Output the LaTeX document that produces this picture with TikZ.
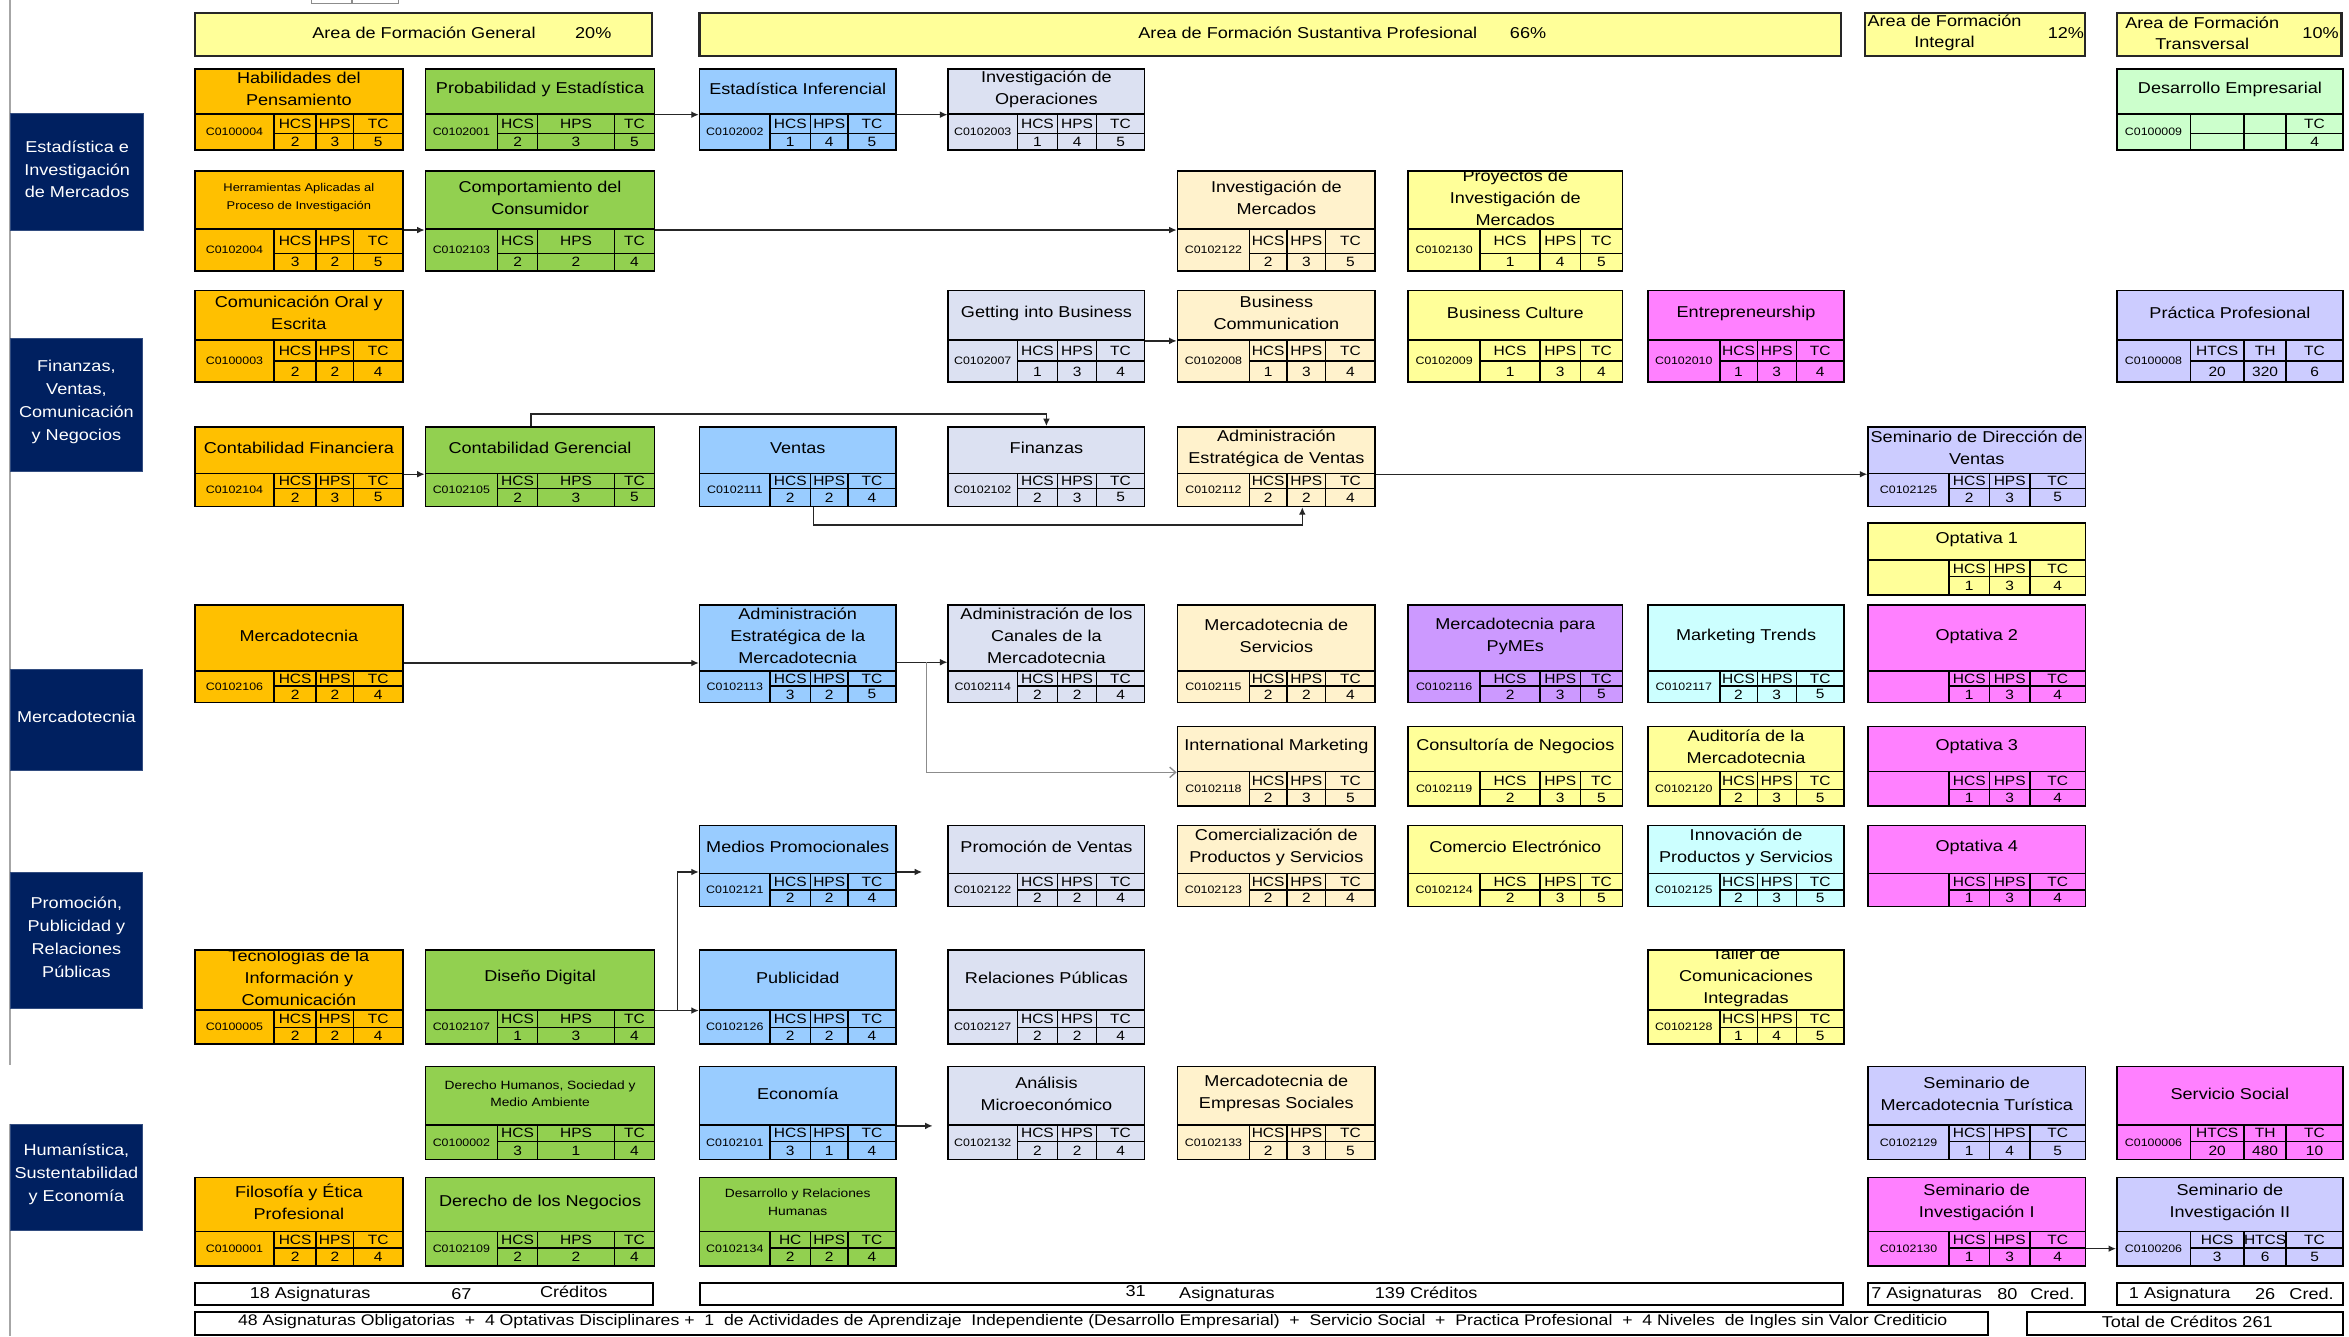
\documentclass[tikz,border=0pt]{standalone}
\usepackage{fontspec}
\usepackage{graphicx}
\setmainfont{Liberation Sans}[FakeStretch=1.15]
\usetikzlibrary{fit,calc,arrows.meta}
\definecolor{cOrange}{HTML}{FFC000}
\definecolor{cGreen}{HTML}{92D050}
\definecolor{cBlue}{HTML}{99CCFF}
\definecolor{cLav}{HTML}{DCE1F2}
\definecolor{cCream}{HTML}{FFF2CC}
\definecolor{cYellow}{HTML}{FFFF99}
\definecolor{cMagenta}{HTML}{FF80FF}
\definecolor{cPeri}{HTML}{CCCCFF}
\definecolor{cPurple}{HTML}{CC99FF}
\definecolor{cCyan}{HTML}{CCFFFF}
\definecolor{cMint}{HTML}{CCFFCC}
\definecolor{cNavy}{HTML}{002060}
\def\myParseCol#1,#2,#3,#4,#5;{\def\cxA{#1}\def\cxB{#2}\def\cxC{#3}\def\cxD{#4}\def\cxE{#5}}
\def\myParseRow#1,#2,#3,#4;{\def\cyA{#1}\def\cyB{#2}\def\cyC{#3}\def\cyD{#4}}
\def\myParseH#1/#2/#3;{\def\chA{#1}\def\chB{#2}\def\chC{#3}}
\def\myParseV#1/#2/#3;{\def\cvA{#1}\def\cvB{#2}\def\cvC{#3}}
\def\myColA{130,183,211,236,269}
\def\myColB{284,332,359,410,437}
\def\myColC{467,514,541,566,598}
\def\myColD{633,679,706,732,764}
\def\myColE{786,834,859,885,918}
\def\myColF{940,988,1028,1055,1083}
\def\myColG{1100,1148,1173,1199,1231}
\def\myColH{1247,1301,1328,1355,1392}
\def\myColI{1413,1462,1498,1526,1564}
\def\myRowA{46,76,89,100}
\def\myRowB{114,153,169,181}
\def\myRowC{194,227,241,255}
\def\myRowD{285,316,326,338}
\def\myRowE{349,374,385,397}
\def\myRowF{404,448,458,469}
\def\myRowG{485,515,527,538}
\def\myRowH{551,583,594,605}
\def\myRowI{634,674,686,697}
\def\myRowJ{712,751,762,774}
\def\myRowK{786,822,833,845}
\newcommand\ttlfont{\fontsize{10.5}{14.7}\selectfont}
\newcommand\smallttl{\fontsize{7.5}{12}\selectfont}
\newcommand\smallttlb{\fontsize{8}{11.5}\selectfont}
\newcommand\course[9]{%
  \expandafter\myParseCol#2;%
  \expandafter\myParseRow#3;%
  \myParseH#7;\myParseV#8;%
  \node[boxfit, fit={(\cxA,\cyA)(\cxE,\cyB)}, fill=#4] (#1) {};
  \begin{scope}
    \clip (\cxA,\cyA) rectangle (\cxE,\cyB);
    \node[ttl,#9] (#1-tt) at ([yshift=1.5pt]#1.center) {#5};
  \end{scope}
  \node[boxfit, fit={(\cxA,\cyB)(\cxE,\cyD)}, fill=#4] (#1-tab) {};
  \draw[cellline] (\cxB,\cyB) -- (\cxB,\cyD) (\cxC,\cyB) -- (\cxC,\cyD)
     (\cxD,\cyB) -- (\cxD,\cyD) (\cxB,\cyC) -- (\cxE,\cyC);
  \node[codef] (#1-code) at ({(\cxA+\cxB)/2},{(\cyB+\cyD)/2}) {#6};
  \node[cellf] (#1-h1) at ({(\cxB+\cxC)/2},{(\cyB+\cyC)/2}) {\chA};
  \node[cellf] (#1-h2) at ({(\cxC+\cxD)/2},{(\cyB+\cyC)/2}) {\chB};
  \node[cellf] (#1-h3) at ({(\cxD+\cxE)/2},{(\cyB+\cyC)/2}) {\chC};
  \node[cellf] (#1-v1) at ({(\cxB+\cxC)/2},{(\cyC+\cyD)/2}) {\cvA};
  \node[cellf] (#1-v2) at ({(\cxC+\cxD)/2},{(\cyC+\cyD)/2}) {\cvB};
  \node[cellf] (#1-v3) at ({(\cxD+\cxE)/2},{(\cyC+\cyD)/2}) {\cvC};
}
\begin{document}
\begin{tikzpicture}[x=1pt,y=-1pt,
  boxfit/.style={draw=black, line width=1.1pt, inner sep=0pt},
  cellline/.style={draw=black, line width=0.9pt},
  ttl/.style={font=\ttlfont, align=center, inner sep=0pt, text=black},
  codef/.style={font=\fontsize{7.2}{8}\selectfont, inner sep=0pt},
  cellf/.style={font=\fontsize{9}{10}\selectfont, inner sep=0pt},
  catbox/.style={fill=cNavy, draw=cNavy!80!white, line width=0.6pt, inner sep=0pt},
  cattxt/.style={text=white, font=\fontsize{10.5}{15.3}\selectfont, align=center, inner sep=0pt},
  hdrbox/.style={fill=cYellow, draw=black!85, line width=1.5pt, inner sep=0pt},
  hdrtxt/.style={font=\fontsize{10.5}{14}\selectfont, align=center, inner sep=0pt},
  barbox/.style={draw=black, line width=1.2pt, inner sep=0pt, fill=white},
  bartxt/.style={font=\fontsize{10.5}{12}\selectfont, inner sep=0pt},
  arr/.style={draw=black!85, line width=0.9pt, -{Latex[length=5pt,width=4.5pt]}},
  grayarr/.style={draw=black!45, line width=0.9pt, -{Straight Barb[length=4pt,width=7pt]}},
  leftline/.style={draw=black!35, line width=1.4pt}
]
\fill[white] (0,0) rectangle (1568,892);
\useasboundingbox (0,0) rectangle (1568,892);

% left rule and top tab
\draw[leftline] (6.5,0) -- (6.5,711);
\draw[leftline] (6.5,750) -- (6.5,892);
\draw[draw=black!45, line width=0.8pt] (208,-2) rectangle (266,2.5);
\draw[draw=black!45, line width=0.8pt] (235,-2) -- (235,2.5);

% category boxes
\node[catbox, fit={(7,76)(96,154)}] (cat1) {};
\node[cattxt] (cat1-t) at ([yshift=2pt]cat1.center) {Estadística e\\Investigación\\de Mercados};
\node[catbox, fit={(7,226)(95,315)}] (cat2) {};
\node[cattxt] (cat2-t) at ([yshift=2pt]cat2.center) {Finanzas,\\Ventas,\\Comunicación\\y Negocios};
\node[catbox, fit={(7,446.6)(95,514)}] (cat3) {};
\node[cattxt] (cat3-t) at ([yshift=1.5pt]cat3.center) {Mercadotecnia};
\node[catbox, fit={(7,582.4)(95,673)}] (cat4) {};
\node[cattxt] (cat4-t) at ([yshift=2pt]cat4.center) {Promoción,\\Publicidad y\\Relaciones\\Públicas};
\node[catbox, fit={(7,750.5)(95,821)}] (cat5) {};
\node[cattxt] (cat5-t) at ([yshift=2pt]cat5.center) {Humanística,\\Sustentabilidad\\y Economía};

% header boxes
\node[hdrbox, fit={(130,8.5)(435,37.5)}] (hg) {};
\node[hdrtxt] (hg-t) at (283,22) {Area de Formación General};
\node[hdrtxt] (hg-p) at (396,22) {20\%};
\node[hdrbox, fit={(467,8.5)(1229,37.5)}] (hs) {};
\node[hdrtxt] (hs-t) at (873,22) {Area de Formación Sustantiva Profesional};
\node[hdrtxt] (hs-p) at (1020,22) {66\%};
\node[hdrbox, fit={(1245,8.5)(1392,37.5)}] (hi) {};
\node[hdrtxt] (hi-t) at (1298,22) {Area de Formación\\Integral};
\node[hdrtxt] (hi-p) at (1379,22) {12\%};
\node[hdrbox, fit={(1413,8.5)(1563,37.5)}] (ht) {};
\node[hdrtxt] (ht-t) at (1470,22) {Area de Formación\\Transversal};
\node[hdrtxt] (ht-p) at (1549,22) {10\%};

% Row 1
\course{hab}{\myColA}{\myRowA}{cOrange}{Habilidades del\\Pensamiento}{C0100004}{HCS/HPS/TC}{2/3/5}{}
\course{prob}{\myColB}{\myRowA}{cGreen}{Probabilidad y Estadística}{C0102001}{HCS/HPS/TC}{2/3/5}{}
\course{estinf}{\myColC}{\myRowA}{cBlue}{Estadística Inferencial}{C0102002}{HCS/HPS/TC}{1/4/5}{}
\course{invop}{\myColD}{\myRowA}{cLav}{Investigación de\\Operaciones}{C0102003}{HCS/HPS/TC}{1/4/5}{}
\course{desemp}{\myColI}{\myRowA}{cMint}{Desarrollo Empresarial}{C0100009}{//TC}{//4}{}
% Row 2
\course{herr}{\myColA}{\myRowB}{cOrange}{Herramientas Aplicadas al\\Proceso de Investigación}{C0102004}{HCS/HPS/TC}{3/2/5}{font=\smallttl}
\course{comp}{\myColB}{\myRowB}{cGreen}{Comportamiento del\\Consumidor}{C0102103}{HCS/HPS/TC}{2/2/4}{}
\course{invmer}{\myColE}{\myRowB}{cCream}{Investigación de\\Mercados}{C0102122}{HCS/HPS/TC}{2/3/5}{}
\course{proy}{\myColF}{\myRowB}{cYellow}{Proyectos de\\Investigación de\\Mercados}{C0102130}{HCS/HPS/TC}{1/4/5}{}
% Row 3
\course{com}{\myColA}{\myRowC}{cOrange}{Comunicación Oral y\\Escrita}{C0100003}{HCS/HPS/TC}{2/2/4}{}
\course{getb}{\myColD}{\myRowC}{cLav}{Getting into Business}{C0102007}{HCS/HPS/TC}{1/3/4}{}
\course{bcom}{\myColE}{\myRowC}{cCream}{Business\\Communication}{C0102008}{HCS/HPS/TC}{1/3/4}{}
\course{bcul}{\myColF}{\myRowC}{cYellow}{Business Culture}{C0102009}{HCS/HPS/TC}{1/3/4}{}
\course{entre}{\myColG}{\myRowC}{cMagenta}{Entrepreneurship}{C0102010}{HCS/HPS/TC}{1/3/4}{}
\course{prac}{\myColI}{\myRowC}{cPeri}{Práctica Profesional}{C0100008}{HTCS/TH/TC}{20/320/6}{}
% Row 4
\course{cfin}{\myColA}{\myRowD}{cOrange}{Contabilidad Financiera}{C0102104}{HCS/HPS/TC}{2/3/5}{}
\course{cger}{\myColB}{\myRowD}{cGreen}{Contabilidad Gerencial}{C0102105}{HCS/HPS/TC}{2/3/5}{}
\course{vent}{\myColC}{\myRowD}{cBlue}{Ventas}{C0102111}{HCS/HPS/TC}{2/2/4}{}
\course{fin}{\myColD}{\myRowD}{cLav}{Finanzas}{C0102102}{HCS/HPS/TC}{2/3/5}{}
\course{aev}{\myColE}{\myRowD}{cCream}{Administración\\Estratégica de Ventas}{C0102112}{HCS/HPS/TC}{2/2/4}{}
\course{sdv}{\myColH}{\myRowD}{cPeri}{Seminario de Dirección de\\Ventas}{C0102125}{HCS/HPS/TC}{2/3/5}{}
% Row 5
\course{opt1}{\myColH}{\myRowE}{cYellow}{Optativa 1}{}{HCS/HPS/TC}{1/3/4}{}
% Row 6
\course{merc}{\myColA}{\myRowF}{cOrange}{Mercadotecnia}{C0102106}{HCS/HPS/TC}{2/2/4}{}
\course{aem}{\myColC}{\myRowF}{cBlue}{Administración\\Estratégica de la\\Mercadotecnia}{C0102113}{HCS/HPS/TC}{3/2/5}{}
\course{acm}{\myColD}{\myRowF}{cLav}{Administración de los\\Canales de la\\Mercadotecnia}{C0102114}{HCS/HPS/TC}{2/2/4}{}
\course{mser}{\myColE}{\myRowF}{cCream}{Mercadotecnia de\\Servicios}{C0102115}{HCS/HPS/TC}{2/2/4}{}
\course{pym}{\myColF}{\myRowF}{cPurple}{Mercadotecnia para\\PyMEs}{C0102116}{HCS/HPS/TC}{2/3/5}{}
\course{mkt}{\myColG}{\myRowF}{cCyan}{Marketing Trends}{C0102117}{HCS/HPS/TC}{2/3/5}{}
\course{opt2}{\myColH}{\myRowF}{cMagenta}{Optativa 2}{}{HCS/HPS/TC}{1/3/4}{}
% Row 7
\course{imkt}{\myColE}{\myRowG}{cCream}{International Marketing}{C0102118}{HCS/HPS/TC}{2/3/5}{}
\course{cons}{\myColF}{\myRowG}{cYellow}{Consultoría de Negocios}{C0102119}{HCS/HPS/TC}{2/3/5}{}
\course{aud}{\myColG}{\myRowG}{cYellow}{Auditoría de la\\Mercadotecnia}{C0102120}{HCS/HPS/TC}{2/3/5}{}
\course{opt3}{\myColH}{\myRowG}{cMagenta}{Optativa 3}{}{HCS/HPS/TC}{1/3/4}{}
% Row 8
\course{medp}{\myColC}{\myRowH}{cBlue}{Medios Promocionales}{C0102121}{HCS/HPS/TC}{2/2/4}{}
\course{pven}{\myColD}{\myRowH}{cLav}{Promoción de Ventas}{C0102122}{HCS/HPS/TC}{2/2/4}{}
\course{cps}{\myColE}{\myRowH}{cCream}{Comercialización de\\Productos y Servicios}{C0102123}{HCS/HPS/TC}{2/2/4}{}
\course{celec}{\myColF}{\myRowH}{cYellow}{Comercio Electrónico}{C0102124}{HCS/HPS/TC}{2/3/5}{}
\course{inno}{\myColG}{\myRowH}{cCyan}{Innovación de\\Productos y Servicios}{C0102125}{HCS/HPS/TC}{2/3/5}{}
\course{opt4}{\myColH}{\myRowH}{cMagenta}{Optativa 4}{}{HCS/HPS/TC}{1/3/4}{}
% Row 9
\course{tic}{\myColA}{\myRowI}{cOrange}{Tecnologías de la\\Información y\\Comunicación}{C0100005}{HCS/HPS/TC}{2/2/4}{}
\course{dd}{\myColB}{\myRowI}{cGreen}{Diseño Digital}{C0102107}{HCS/HPS/TC}{1/3/4}{}
\course{pub}{\myColC}{\myRowI}{cBlue}{Publicidad}{C0102126}{HCS/HPS/TC}{2/2/4}{}
\course{rp}{\myColD}{\myRowI}{cLav}{Relaciones Públicas}{C0102127}{HCS/HPS/TC}{2/2/4}{}
\course{taller}{\myColG}{\myRowI}{cYellow}{Taller de\\Comunicaciones\\Integradas}{C0102128}{HCS/HPS/TC}{1/4/5}{}
% Row 10
\course{dh}{\myColB}{\myRowJ}{cGreen}{Derecho Humanos, Sociedad y\\Medio Ambiente}{C0100002}{HCS/HPS/TC}{3/1/4}{font=\smallttlb}
\course{eco}{\myColC}{\myRowJ}{cBlue}{Economía}{C0102101}{HCS/HPS/TC}{3/1/4}{}
\course{amic}{\myColD}{\myRowJ}{cLav}{Análisis\\Microeconómico}{C0102132}{HCS/HPS/TC}{2/2/4}{}
\course{mes}{\myColE}{\myRowJ}{cCream}{Mercadotecnia de\\Empresas Sociales}{C0102133}{HCS/HPS/TC}{2/3/5}{}
\course{smt}{\myColH}{\myRowJ}{cPeri}{Seminario de\\Mercadotecnia Turística}{C0102129}{HCS/HPS/TC}{1/4/5}{}
\course{ss}{\myColI}{\myRowJ}{cMagenta}{Servicio Social}{C0100006}{HTCS/TH/TC}{20/480/10}{}
% Row 11
\course{fil}{\myColA}{\myRowK}{cOrange}{Filosofía y Ética\\Profesional}{C0100001}{HCS/HPS/TC}{2/2/4}{}
\course{dneg}{\myColB}{\myRowK}{cGreen}{Derecho de los Negocios}{C0102109}{HCS/HPS/TC}{2/2/4}{}
\course{drh}{\myColC}{\myRowK}{cGreen}{Desarrollo y Relaciones\\Humanas}{C0102134}{HC/HPS/TC}{2/2/4}{font=\smallttlb}
\course{si1}{\myColH}{\myRowK}{cMagenta}{Seminario de\\Investigación I}{C0102130}{HCS/HPS/TC}{1/3/4}{}
\course{si2}{\myColI}{\myRowK}{cPeri}{Seminario de\\Investigación II}{C0100206}{HCS/HTCS/TC}{3/6/5}{}

% connectors
\draw[arr] (prob.south east) -- (estinf.south west);
\draw[arr] (estinf.south east) -- (invop.south west);
\draw[arr] (herr.south east) -- (comp.south west);
\draw[arr] (comp.south east) -- (invmer.south west);
\draw[arr] (getb.south east) -- (bcom.south west);
\draw[arr] (cfin.south east) -- (cger.south west);
\draw[arr] ($(cger.north west)!.46!(cger.north east)$) -- ++(0,-8) -| (fin.north);
\draw[arr] ($(vent-tab.south west)!.58!(vent-tab.south east)$) -- ++(0,12) -| ($(aev-tab.south west)!.63!(aev-tab.south east)$);
\draw[arr] (aev.south east) -- (sdv.south west);
\draw[arr] ([yshift=6pt]merc.south east) -- ([yshift=6pt]aem.south west);
\draw[arr] ([yshift=6.5pt]aem.south east) -- ([yshift=6.5pt]acm.south west);
\coordinate (brm) at ([xshift=19.7pt,yshift=6.5pt]aem.south east);
\draw[grayarr] (brm) |- (imkt.south west);
\coordinate (brd) at ([xshift=14.5pt]dd.south east);
\draw[arr] (dd.south east) -- (brd) -- (pub.south west);
\draw[arr] (brd) |- ([yshift=1.5pt]medp.south west);
\coordinate (mfree) at ([xshift=17pt,yshift=1.5pt]medp.south east);
\draw[arr] ([yshift=1.5pt]medp.south east) -- (mfree);
\coordinate (efree) at ([xshift=24pt]eco.south east);
\draw[arr] (eco.south east) -- (efree);
\draw[arr] (si1-tab.east) -- (si2-tab.west);

% bottom bars
\node[barbox, fit={(130,856.5)(436,871)}] (b1a) {};
\node[bartxt] (b1a-1) at (207,864) {18 Asignaturas};
\node[bartxt] (b1a-2) at (308,864) {67};
\node[bartxt] (b1a-3) at (383,862) {Créditos};
\node[barbox, fit={(467,856.5)(1230,871)}] (b1b) {};
\node[bartxt] (b1b-1) at (758,862) {31};
\node[bartxt] (b1b-2) at (819,864) {Asignaturas};
\node[bartxt] (b1b-3) at (952,863) {139 Créditos};
\node[barbox, fit={(1247,856.5)(1392,871)}] (b1c) {};
\node[bartxt] (b1c-1) at (1286,864) {7 Asignaturas};
\node[bartxt] (b1c-2) at (1340,864) {80};
\node[bartxt] (b1c-3) at (1370,864) {Cred.};
\node[barbox, fit={(1413,856.5)(1564,871)}] (b1d) {};
\node[bartxt] (b1d-1) at (1455,864) {1 Asignatura};
\node[bartxt] (b1d-2) at (1512,864) {26};
\node[bartxt] (b1d-3) at (1543,864) {Cred.};
\node[barbox, fit={(130,876)(1327,891)}] (b2a) {};
\node[bartxt] (b2a-t) at (729.5,882) {\resizebox{1141pt}{!}{48 Asignaturas Obligatorias ~+~ 4 Optativas Disciplinares + ~1 ~de Actividades de Aprendizaje ~Independiente (Desarrollo Empresarial) ~+~ Servicio Social ~+~ Practica Profesional ~+~ 4 Niveles ~de Ingles sin Valor Crediticio}};
\node[barbox, fit={(1353,876)(1564,891)}] (b2b) {};
\node[bartxt] (b2b-t) at (1460,882) {Total de Créditos 261};
\end{tikzpicture}
\end{document}
